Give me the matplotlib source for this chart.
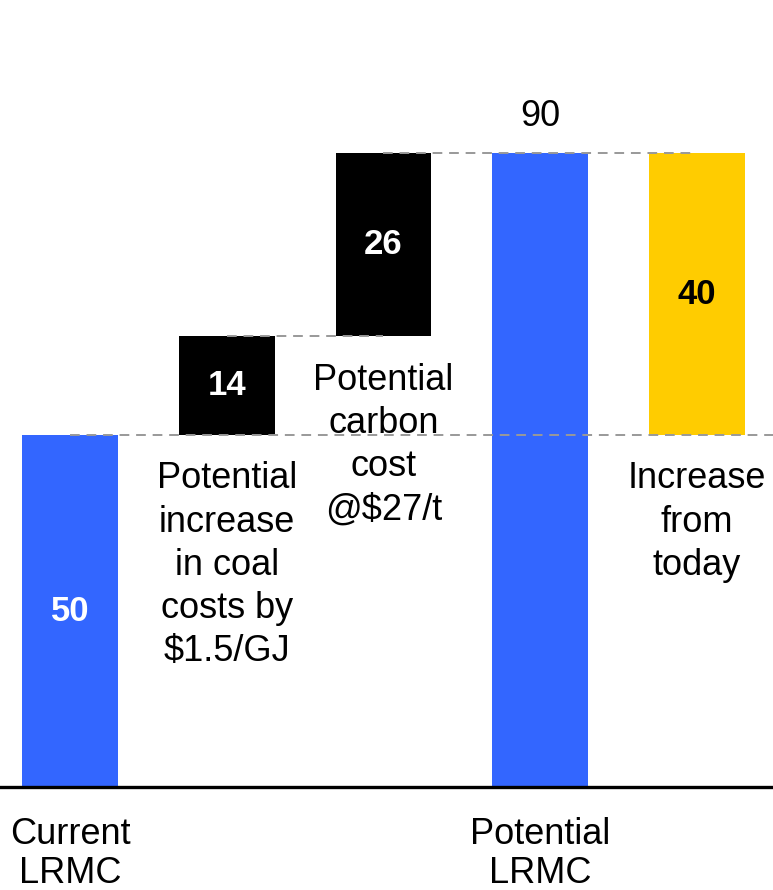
import matplotlib
matplotlib.use("Agg")
from matplotlib import pyplot as plt

plt.rcParams['font.family'] = ['Liberation Sans', 'DejaVu Sans']

# Waterfall steps ($/MWh)
bar_values = [50, 14, 26, 90, 40]
bar_bottoms = [0, 50, 64, 0, 50]
bar_colors = ["#3366FF", "#000000", "#000000", "#3366FF", "#FFCC00"]
value_colors = ["white", "white", "white", "black", "black"]
axis_labels = ["Current\nLRMC", "", "", "Potential\nLRMC", ""]
step_notes = ["", "Potential\nincrease\nin coal\ncosts by\n$1.5/GJ",
              "Potential\ncarbon\ncost\n@$27/t", "", "Increase\nfrom\ntoday"]

fig = plt.figure(figsize=(7.73, 8.90), dpi=100)
ax = fig.add_axes([0, 103 / 890, 1, 787 / 890])
ax.set_xlim(-0.4466, 4.485)
ax.set_ylim(0, 111.8)
ax.axis("off")

x = list(range(len(bar_values)))
ax.bar(x, bar_values, bottom=bar_bottoms, width=0.612, color=bar_colors, zorder=2)

# Connector lines between steps
dash = dict(color="#999999", lw=1.4, ls=(0, (5, 3.5)), zorder=3)
ax.plot([0, 4.485], [50, 50], **dash)
ax.plot([1, 2], [64, 64], **dash)
ax.plot([2, 4], [90, 90], **dash)

# Baseline
ax.plot([-0.4466, 4.485], [0, 0], color="black", lw=2.4, zorder=4, clip_on=False)

for i, (v, b) in enumerate(zip(bar_values, bar_bottoms)):
    if i == 3:
        ax.annotate(str(v), (i, b + v), xytext=(0, 19.5), textcoords="offset points",
                    ha="center", va="baseline", fontsize=26)
    else:
        ax.text(i, b + v / 2, str(v), ha="center", va="center", fontsize=25,
                fontweight="bold", color=value_colors[i], zorder=5)
    if step_notes[i]:
        ax.annotate(step_notes[i], (i, b), xytext=(0, -19), textcoords="offset points",
                    ha="center", va="top", fontsize=26, linespacing=1.30)
    if axis_labels[i]:
        ax.annotate(axis_labels[i], (i, 0), xytext=(0, -21.5), textcoords="offset points",
                    ha="center", va="top", fontsize=26, linespacing=1.16,
                    annotation_clip=False)

fig.savefig("out.png", dpi=100, facecolor="white")
